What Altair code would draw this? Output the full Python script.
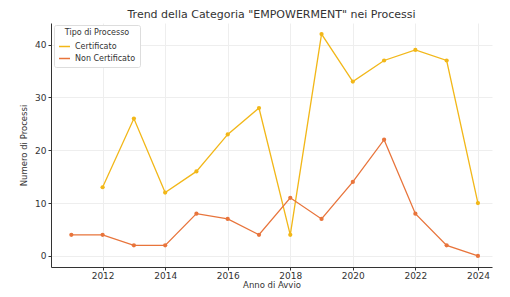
import altair as alt
import pandas as pd

years_cert = [2012, 2013, 2014, 2015, 2016, 2017, 2018, 2019, 2020, 2021, 2022, 2023, 2024]
vals_cert = [13, 26, 12, 16, 23, 28, 4, 42, 33, 37, 39, 37, 10]
years_non = [2011, 2012, 2013, 2014, 2015, 2016, 2017, 2018, 2019, 2020, 2021, 2022, 2023, 2024]
vals_non = [4, 4, 2, 2, 8, 7, 4, 11, 7, 14, 22, 8, 2, 0]
series = ["Certificato", "Non Certificato"]
colors = ["#F2B718", "#E8743B"]

df = pd.DataFrame(
    [{"anno": y, "n": v, "tipo": series[0]} for y, v in zip(years_cert, vals_cert)]
    + [{"anno": y, "n": v, "tipo": series[1]} for y, v in zip(years_non, vals_non)]
)

font = "DejaVu Sans"

chart = alt.Chart(df).mark_line(
    strokeWidth=1.3,
    point=alt.OverlayMarkDef(filled=True, size=18),
).encode(
    x=alt.X("anno:Q", title="Anno di Avvio",
            scale=alt.Scale(domain=[2010.35, 2024.45], nice=False, zero=False),
            axis=alt.Axis(values=[2012, 2014, 2016, 2018, 2020, 2022, 2024], format="d",
                          titleAlign="center", titleFontWeight="normal")),
    y=alt.Y("n:Q", title="Numero di Processi",
            scale=alt.Scale(domain=[-2.1, 44.1], nice=False, zero=False),
            axis=alt.Axis(values=[0, 10, 20, 30, 40], titleFontWeight="normal")),
    color=alt.Color("tipo:N", title="Tipo di Processo",
                    scale=alt.Scale(domain=series, range=colors),
                    legend=alt.Legend(orient="none", legendX=3, legendY=2,
                                      symbolType="stroke", symbolSize=120,
                                      symbolStrokeWidth=1.5,
                                      titleFontSize=8,
                                      labelFontSize=8, titleAlign="center", titleAnchor="middle",
                                      padding=4, strokeColor="#dddddd", fillColor="white",
                                      rowPadding=1, titlePadding=3, cornerRadius=2)),
).properties(
    width=441, height=244,
    title=alt.Title('Trend della Categoria "EMPOWERMENT" nei Processi',
                    fontSize=11, fontWeight="normal", color="#333333", offset=3, anchor="middle"),
    padding={"left": 43, "top": 15, "right": 10, "bottom": 22},
    autosize=alt.AutoSizeParams(type="none"),
).configure(font=font).configure_view(stroke=None).configure_axis(
    gridColor="#eeeeee", domainColor="#333333", tickColor="#333333",
    labelFontSize=9, titleFontSize=8.5, labelColor="#333333", titleColor="#333333",
    labelFont=font, titleFont=font, tickSize=3,
).configure_axisX(domain=True, grid=True, titlePadding=0, labelPadding=1).configure_axisY(
    titlePadding=6
).configure_legend(titleFontWeight="normal", labelColor="#333333", titleColor="#333333")

chart.save("out.html", embed_options={"renderer": "svg", "actions": False})
